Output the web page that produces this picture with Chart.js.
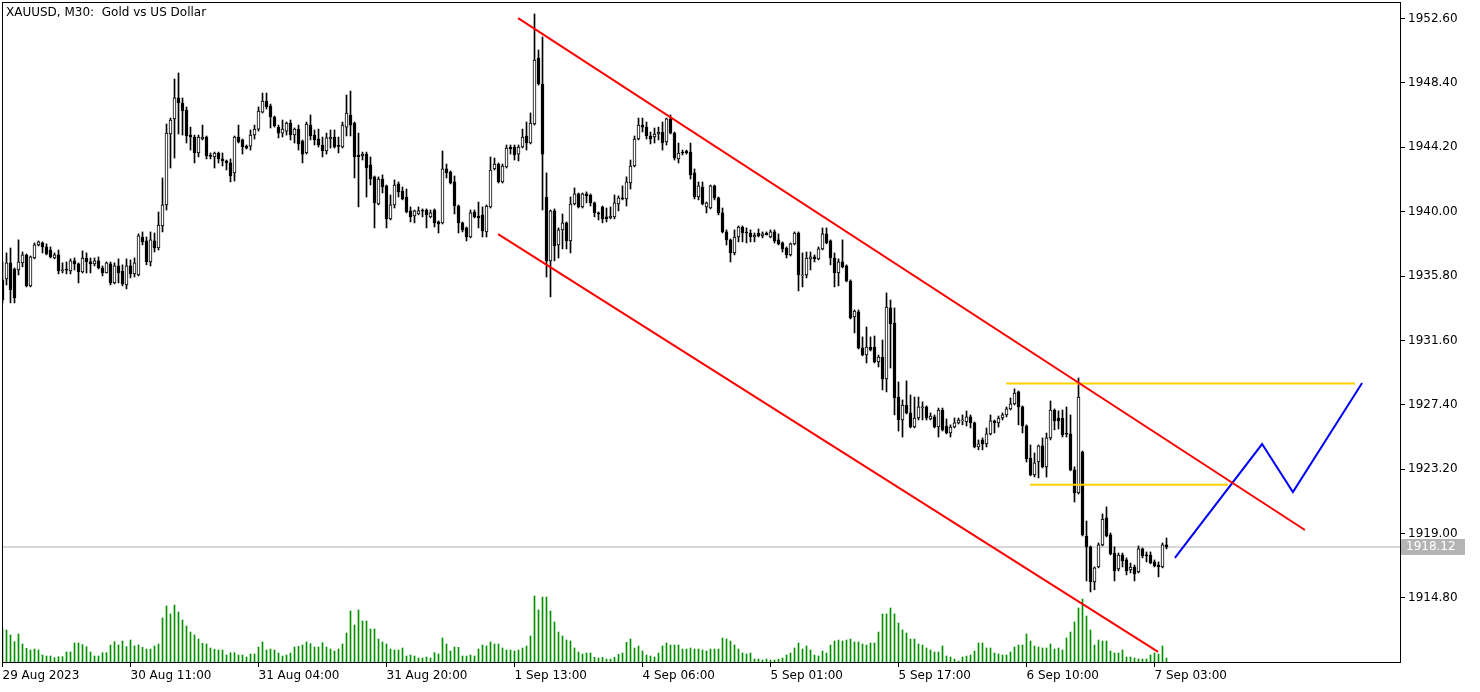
<!DOCTYPE html>
<html><head><meta charset="utf-8">
<script src="https://cdn.jsdelivr.net/npm/chart.js@4.4.0/dist/chart.umd.min.js"></script>
<style>html,body{margin:0;padding:0;background:#fff;overflow:hidden}#wrap{width:1480px;height:692px}</style>
</head><body><div id="wrap"><canvas id="c" width="1480" height="692"></canvas></div>
<script>
const opens=[1935.55,1935.61,1936.66,1936.26,1936.20,1936.66,1937.18,1935.16,1936.98,1937.83,
1937.96,1937.70,1937.50,1936.98,1937.18,1936.13,1936.20,1936.13,1936.79,1936.59,
1936.07,1936.98,1936.72,1936.59,1936.79,1936.33,1936.00,1936.59,1935.35,1936.46,
1936.13,1935.22,1936.46,1935.94,1935.87,1938.35,1938.09,1936.72,1938.09,1937.63,
1939.07,1940.44,1945.07,1946.05,1947.42,1947.09,1946.63,1945.00,1944.87,1943.83,
1944.74,1944.87,1943.63,1943.57,1943.83,1943.44,1943.31,1943.18,1942.53,1944.87,
1944.68,1944.28,1944.28,1945.00,1945.39,1946.50,1947.22,1946.89,1946.18,1945.52,
1945.13,1945.26,1945.78,1945.00,1945.39,1944.61,1943.83,1945.65,1945.00,1944.74,
1944.35,1943.96,1944.74,1944.87,1944.28,1944.22,1945.52,1946.31,1945.78,1943.70,
1943.63,1943.76,1943.05,1942.27,1940.50,1942.13,1941.68,1939.53,1940.44,1941.81,
1941.35,1940.96,1940.05,1939.72,1939.85,1940.05,1940.11,1939.66,1940.11,1939.33,
1939.27,1942.79,1942.59,1941.94,1940.37,1939.27,1938.94,1938.35,1939.98,1939.72,
1939.79,1938.68,1940.31,1942.79,1943.11,1941.94,1942.92,1944.22,1944.22,1943.76,
1944.22,1944.94,1944.48,1945.72,1950.02,1948.33,1940.96,1936.79,1940.05,1937.83,
1938.81,1939.27,1938.09,1940.50,1941.16,1940.31,1941.16,1941.09,1940.57,1939.92,
1940.31,1939.66,1939.59,1939.66,1940.50,1940.90,1940.83,1941.87,1942.98,1944.74,
1945.65,1945.52,1944.94,1944.87,1945.07,1945.20,1944.55,1946.05,1945.13,1943.44,
1943.89,1943.96,1943.89,1942.53,1940.96,1941.61,1940.31,1940.24,1941.68,1940.90,
1939.92,1938.68,1938.16,1937.31,1938.35,1939.00,1938.66,1938.61,1938.35,1938.61,
1938.42,1938.61,1938.35,1938.68,1938.16,1937.96,1937.63,1937.18,1937.90,1938.61,
1935.81,1935.87,1936.92,1937.05,1936.92,1937.57,1938.55,1938.09,1936.98,1936.00,
1936.72,1936.46,1935.48,1933.13,1933.46,1931.11,1930.65,1931.17,1931.17,1930.20,
1930.52,1929.09,1933.72,1932.74,1927.91,1926.41,1927.39,1926.87,1925.95,1926.54,
1927.19,1927.26,1926.48,1926.61,1925.95,1927.06,1926.02,1925.56,1925.95,1926.22,
1926.35,1926.28,1926.61,1926.22,1924.65,1925.11,1924.85,1925.50,1926.35,1926.22,
1926.54,1926.74,1927.13,1927.46,1928.24,1927.26,1926.02,1923.93,1922.82,1923.67,
1924.72,1923.35,1925.24,1927.06,1926.54,1926.54,1925.50,1925.50,1923.15,1921.65,
1924.32,1918.84,1918.13,1915.85,1916.82,1918.26,1920.02,1918.91,1917.73,1916.69,
1917.60,1917.28,1916.63,1916.82,1916.50,1918.00,1917.58,1917.60,1917.15,1916.95,
1916.82,1918.26];
const highs=[1936.72,1937.31,1937.63,1936.33,1938.16,1937.37,1937.24,1937.11,1937.96,1938.09,
1938.03,1937.90,1937.70,1937.31,1937.50,1936.66,1936.72,1936.92,1936.98,1936.66,
1937.44,1937.31,1936.98,1936.98,1937.05,1936.46,1936.72,1936.72,1936.66,1936.92,
1936.53,1936.92,1936.85,1936.98,1938.55,1938.68,1938.35,1938.68,1938.61,1939.98,
1942.20,1945.72,1946.11,1948.66,1949.05,1947.42,1946.83,1945.52,1945.00,1945.00,
1945.65,1944.94,1943.83,1943.89,1943.89,1943.83,1943.37,1943.44,1944.94,1945.65,
1944.74,1944.35,1945.33,1945.65,1946.83,1947.74,1947.74,1947.02,1946.24,1945.65,
1945.98,1945.85,1945.98,1945.46,1945.65,1944.68,1945.85,1946.31,1945.33,1945.39,
1944.87,1945.13,1945.33,1945.33,1944.87,1945.85,1947.61,1947.87,1945.85,1945.13,
1943.89,1943.89,1943.57,1942.33,1942.27,1942.40,1941.74,1941.09,1942.07,1941.94,
1941.61,1941.48,1940.31,1940.11,1940.31,1940.18,1940.18,1940.11,1940.18,1939.40,
1943.96,1943.11,1942.66,1942.33,1940.44,1939.33,1939.00,1940.11,1940.11,1940.63,
1940.31,1940.44,1943.57,1943.50,1943.18,1943.11,1944.35,1944.35,1944.35,1944.35,
1945.39,1945.85,1946.44,1952.90,1950.55,1951.40,1942.53,1940.11,1940.18,1938.94,
1939.85,1939.33,1940.96,1941.55,1941.22,1941.22,1941.29,1941.16,1940.63,1939.98,
1940.37,1940.24,1940.31,1941.09,1941.03,1941.68,1942.27,1943.37,1944.94,1946.11,
1946.11,1945.85,1945.20,1945.46,1945.52,1945.85,1946.11,1946.31,1945.20,1944.48,
1944.02,1944.02,1944.48,1942.79,1941.94,1941.94,1940.63,1941.74,1941.74,1940.96,
1940.24,1938.81,1938.22,1938.81,1939.07,1939.07,1938.94,1938.81,1938.61,1938.87,
1938.68,1938.68,1938.81,1938.81,1938.55,1938.03,1937.70,1937.96,1938.68,1938.68,
1937.31,1937.37,1937.37,1937.18,1937.70,1938.94,1938.94,1938.16,1937.31,1936.92,
1938.16,1936.53,1935.55,1933.59,1933.59,1931.83,1932.48,1931.83,1931.89,1930.65,
1931.63,1934.70,1934.24,1933.72,1928.89,1927.72,1928.96,1928.04,1927.91,1927.91,
1927.59,1927.33,1926.87,1926.74,1927.19,1927.19,1926.48,1926.09,1926.54,1926.54,
1926.74,1927.00,1926.74,1926.28,1925.11,1925.24,1925.89,1926.74,1926.41,1926.67,
1926.87,1927.26,1927.85,1928.44,1928.30,1927.33,1926.09,1924.78,1924.26,1924.78,
1925.24,1925.56,1927.65,1927.13,1927.00,1927.06,1927.26,1926.74,1923.35,1929.15,
1924.39,1919.82,1918.19,1916.82,1918.39,1920.28,1920.74,1919.04,1918.13,1917.73,
1917.73,1917.41,1917.08,1916.95,1918.19,1918.06,1917.80,1917.80,1917.28,1917.15,
1918.39,1918.71];
const lows=[1934.05,1935.22,1934.05,1934.05,1935.87,1936.40,1935.09,1935.09,1936.92,1937.76,
1937.31,1937.18,1936.98,1936.92,1935.94,1936.00,1935.94,1935.94,1936.20,1935.35,
1936.00,1936.00,1936.00,1936.46,1936.26,1935.81,1936.00,1935.22,1935.29,1935.35,
1935.16,1934.96,1935.68,1935.74,1935.81,1937.83,1936.53,1936.46,1937.37,1937.50,
1938.68,1940.11,1942.85,1943.50,1945.07,1945.00,1944.48,1944.02,1943.18,1943.57,
1944.68,1943.44,1943.44,1942.85,1943.18,1942.98,1942.72,1941.94,1942.00,1944.48,
1943.76,1944.09,1944.02,1944.74,1945.26,1946.44,1946.70,1945.46,1945.52,1944.81,
1944.87,1945.00,1944.68,1944.48,1944.02,1943.18,1943.76,1944.68,1944.35,1944.22,
1943.57,1943.76,1944.15,1944.15,1943.83,1944.15,1944.94,1944.94,1942.20,1940.31,
1943.37,1940.96,1941.74,1938.94,1940.44,1941.22,1938.94,1939.46,1940.24,1940.96,
1940.77,1939.92,1939.33,1939.27,1939.79,1939.66,1938.94,1939.59,1939.00,1938.61,
1939.20,1942.20,1941.81,1939.85,1938.61,1938.68,1938.09,1938.29,1939.59,1938.94,
1938.35,1938.35,1940.24,1942.72,1941.87,1941.87,1942.85,1943.76,1943.37,1943.31,
1944.15,1944.02,1944.42,1945.65,1948.26,1940.11,1935.74,1934.44,1936.79,1936.98,
1937.57,1937.57,1937.31,1940.44,1940.24,1940.24,1940.57,1940.37,1939.66,1939.46,
1939.27,1939.33,1939.53,1939.53,1940.05,1940.77,1940.37,1941.48,1942.92,1944.68,
1945.20,1944.74,1944.42,1944.48,1944.68,1944.02,1944.35,1945.07,1943.37,1943.18,
1943.70,1943.76,1942.13,1940.83,1940.77,1940.44,1939.92,1940.18,1940.77,1939.79,
1938.61,1937.83,1936.72,1937.18,1938.03,1938.03,1937.96,1938.03,1938.03,1938.35,
1938.29,1938.48,1938.29,1937.96,1937.83,1937.37,1936.98,1937.11,1937.83,1934.83,
1935.09,1935.68,1936.20,1936.72,1936.85,1937.50,1937.90,1936.53,1935.09,1935.16,
1936.33,1935.42,1933.00,1932.09,1931.04,1930.59,1930.13,1930.91,1930.13,1929.87,
1928.37,1928.24,1929.80,1926.74,1925.69,1925.30,1926.80,1925.89,1925.89,1926.41,
1926.41,1926.41,1926.41,1925.89,1925.30,1925.69,1925.50,1925.30,1925.89,1926.15,
1926.09,1926.02,1925.89,1924.59,1924.46,1924.46,1924.65,1925.43,1925.56,1925.95,
1926.41,1926.61,1927.06,1927.39,1926.09,1925.56,1923.67,1922.76,1922.69,1922.63,
1923.28,1922.69,1925.11,1925.76,1925.82,1925.30,1925.30,1923.09,1921.06,1921.58,
1918.84,1915.91,1915.19,1915.33,1916.76,1918.19,1918.78,1917.60,1915.91,1916.56,
1916.82,1916.30,1916.43,1915.91,1916.43,1917.41,1917.15,1917.02,1916.82,1916.17,
1916.76,1918.00];
const closes=[1934.24,1936.66,1934.89,1934.37,1936.72,1937.18,1935.16,1937.05,1937.83,1938.03,
1937.70,1937.24,1937.05,1937.18,1936.13,1936.20,1936.18,1936.79,1936.59,1936.07,
1936.98,1936.72,1936.59,1936.79,1936.33,1936.00,1936.66,1935.35,1936.46,1936.00,
1935.29,1936.46,1935.94,1936.66,1938.42,1938.03,1936.72,1938.16,1937.63,1939.13,
1940.44,1945.13,1945.98,1947.42,1947.09,1946.57,1944.94,1944.87,1943.83,1944.87,
1944.87,1943.63,1943.61,1943.83,1943.44,1943.31,1943.18,1942.33,1944.87,1944.55,
1944.22,1944.15,1945.00,1945.39,1946.57,1947.22,1946.83,1946.18,1945.59,1945.13,
1945.39,1945.78,1945.00,1945.39,1944.42,1943.76,1945.72,1944.94,1944.68,1944.35,
1943.96,1944.81,1944.87,1944.22,1944.26,1945.65,1946.44,1945.65,1943.57,1943.57,
1943.76,1942.85,1942.13,1940.57,1942.13,1941.61,1939.53,1940.44,1941.74,1941.29,
1940.83,1939.98,1939.66,1940.05,1940.05,1940.03,1939.79,1939.92,1939.27,1939.20,
1942.79,1942.53,1941.87,1940.37,1939.27,1938.81,1938.35,1939.92,1939.66,1939.59,
1938.74,1940.37,1942.72,1943.11,1941.94,1942.98,1944.15,1944.09,1943.70,1944.22,
1944.87,1944.48,1945.78,1949.89,1948.33,1943.76,1936.79,1940.05,1937.76,1938.81,
1939.27,1938.09,1940.50,1941.16,1940.31,1941.16,1941.03,1940.57,1939.92,1939.85,
1939.53,1939.52,1939.72,1940.57,1940.90,1940.83,1941.94,1942.98,1944.74,1945.65,
1945.52,1944.94,1944.74,1945.07,1945.20,1944.48,1946.05,1945.13,1943.50,1943.83,
1943.83,1943.83,1942.40,1940.96,1941.68,1940.50,1940.57,1941.68,1940.90,1939.92,
1938.68,1938.16,1937.31,1938.35,1939.00,1938.61,1938.61,1938.35,1938.48,1938.42,
1938.55,1938.48,1938.68,1938.09,1937.90,1937.57,1937.18,1937.90,1938.61,1935.87,
1935.87,1936.98,1937.05,1936.92,1937.57,1938.55,1937.96,1936.98,1936.00,1936.72,
1936.40,1935.48,1933.07,1933.52,1931.11,1930.65,1931.17,1930.98,1930.20,1930.52,
1929.09,1933.78,1932.68,1927.85,1926.41,1927.39,1926.87,1925.95,1926.54,1927.26,
1927.26,1926.54,1926.67,1925.95,1927.06,1925.76,1925.56,1925.95,1926.22,1926.41,
1926.37,1926.61,1926.22,1924.65,1924.85,1924.85,1925.50,1926.35,1926.22,1926.54,
1926.74,1927.13,1927.46,1928.17,1927.26,1926.02,1923.87,1922.82,1923.61,1924.72,
1923.35,1925.24,1927.06,1926.35,1926.35,1925.43,1925.48,1923.15,1921.65,1927.91,
1918.91,1918.13,1915.85,1916.76,1918.26,1919.95,1918.84,1917.67,1916.56,1917.60,
1917.21,1916.56,1916.82,1916.37,1918.00,1917.54,1917.54,1917.08,1916.89,1916.82,
1918.26,1918.12];
const volumes=[1000,960,810,610,840,540,410,360,390,360,210,180,180,130,160,160,300,300,570,570,
520,460,300,180,180,280,280,510,610,510,630,460,660,480,510,440,390,390,480,540,
1320,1680,1440,1710,1500,1260,1080,900,810,690,560,540,420,380,360,360,210,280,280,210,
210,150,240,240,450,600,360,390,360,270,180,210,270,450,470,510,600,550,450,450,
580,450,390,330,390,540,870,1530,1110,1560,1230,1230,990,990,690,600,540,390,360,360,
420,180,210,180,120,120,150,120,280,240,720,540,330,450,440,180,180,210,180,390,
510,480,600,540,540,420,360,360,330,360,420,480,780,1980,1560,1950,1950,1530,1200,900,
780,660,630,420,300,240,270,270,140,120,140,90,90,140,230,270,590,690,420,480,
330,210,180,150,270,480,570,510,510,510,390,390,420,390,390,360,330,390,390,390,
720,690,630,510,390,270,240,270,90,90,60,90,60,60,80,120,210,270,420,570,
390,480,360,210,180,330,270,510,630,660,630,660,690,600,600,540,510,570,570,900,
1440,1440,1620,1440,1170,960,870,690,690,540,510,420,360,300,300,480,180,150,90,30,
150,180,210,330,570,570,420,420,270,240,210,210,300,450,510,510,840,630,480,450,
420,420,540,390,420,360,720,900,1200,1620,1890,1380,960,510,660,630,630,330,270,270,
360,150,150,120,90,90,90,210,270,240,480,120];
const xTickBars=[0,32,64,96,128,160,192,224,256,288];
const xTickLabels=["29 Aug 2023","30 Aug 11:00","31 Aug 04:00","31 Aug 20:00","1 Sep 13:00","4 Sep 06:00","5 Sep 01:00","5 Sep 17:00","6 Sep 10:00","7 Sep 03:00"];
const priceTicks=[1914.80,1919.00,1923.20,1927.40,1931.60,1935.80,1940.00,1944.20,1948.40,1952.60];
const bidPrice=1918.12;
const channelUpper=[{x:128.9,y:1952.63},{x:325.6,y:1919.23}];
const channelLower=[{x:123.9,y:1938.54},{x:288.9,y:1911.28}];
const levelHigh=[{x:250.9,y:1928.79},{x:338.1,y:1928.79}];
const levelLow=[{x:256.9,y:1922.19},{x:306.4,y:1922.19}];
const projection=[{x:293.1,y:1917.41},{x:314.9,y:1924.84},{x:322.6,y:1921.71},{x:339.9,y:1928.82}];
const titleText="XAUUSD, M30:  Gold vs US Dollar";

const X_MIN=-0.125, X_MAX=349.375;
const idx=closes.map((_,i)=>i);
const bodies=idx.map(i=>({x:i,y:[opens[i],closes[i]]}));
const wicks=idx.map(i=>({x:i,y:[lows[i],highs[i]]}));
const vols=idx.map(i=>({x:i,y:volumes[i]}));
const bodyFill=idx.map(i=>closes[i]>opens[i]?'#ffffff':'#000000');
const FONT='"DejaVu Sans", sans-serif';

const deco={
  id:'deco',
  afterDraw(chart){
    const {ctx,chartArea:a,scales}=chart;
    ctx.save();
    ctx.strokeStyle='#000';ctx.lineWidth=1;
    ctx.strokeRect(a.left+0.5,a.top+0.5,a.right-a.left,a.bottom-a.top);
    ctx.fillStyle='#000';ctx.font='12px '+FONT;ctx.textBaseline='middle';ctx.textAlign='left';
    ctx.fillText(titleText,a.left+4,a.top+11);
    const y=scales.y.getPixelForValue(bidPrice);
    ctx.fillStyle='#b4b4b4';
    ctx.fillRect(a.right+1,Math.round(y)-8,64,16);
    ctx.fillStyle='#ffffff';
    ctx.fillText(bidPrice.toFixed(2),a.right+6,Math.round(y));
    ctx.restore();
  }
};
function noPad(s){s.paddingTop=0;s.paddingBottom=0;s.paddingLeft=0;s.paddingRight=0;}

new Chart(document.getElementById('c'),{
  type:'bar',
  data:{datasets:[
    {type:'line',label:'channelUpper',data:channelUpper,borderColor:'#ff0000',borderWidth:2,pointRadius:0,order:0,yAxisID:'y'},
    {type:'line',label:'channelLower',data:channelLower,borderColor:'#ff0000',borderWidth:2,pointRadius:0,order:0,yAxisID:'y'},
    {type:'line',label:'levelHigh',data:levelHigh,borderColor:'#ffd000',borderWidth:2,pointRadius:0,order:0,yAxisID:'y'},
    {type:'line',label:'levelLow',data:levelLow,borderColor:'#ffd000',borderWidth:2,pointRadius:0,order:0,yAxisID:'y'},
    {type:'line',label:'projection',data:projection,borderColor:'#0000ff',borderWidth:2,pointRadius:0,order:0,yAxisID:'y'},
    {type:'bar',label:'body',data:bodies,backgroundColor:bodyFill,borderColor:'#000',borderWidth:1,borderSkipped:false,barThickness:3,minBarLength:1,grouped:false,order:1,yAxisID:'y'},
    {type:'bar',label:'wick',data:wicks,backgroundColor:'#000',borderWidth:0,barThickness:1,minBarLength:1,grouped:false,order:2,yAxisID:'y'},
    {type:'bar',label:'volume',data:vols,backgroundColor:'#009000',borderWidth:0,barThickness:1,grouped:false,order:3,yAxisID:'yv'},
    {type:'line',label:'bid',data:[{x:X_MIN,y:bidPrice},{x:X_MAX,y:bidPrice}],borderColor:'#b0b0b0',borderWidth:1,pointRadius:0,order:4,yAxisID:'y'}
  ]},
  options:{
    responsive:false,devicePixelRatio:1,animation:false,
    layout:{padding:{left:2,top:2,right:0,bottom:0}},
    plugins:{legend:{display:false},tooltip:{enabled:false}},
    scales:{
      x:{type:'linear',min:X_MIN,max:X_MAX,offset:false,position:'bottom',
        grid:{display:true,drawOnChartArea:false,drawTicks:true,tickLength:5,color:'#000',offset:false},
        border:{display:false},
        ticks:{autoSkip:false,maxRotation:0,align:'start',color:'#000',font:{family:FONT,size:12},padding:2,
          callback:(v)=>{const k=xTickBars.indexOf(v);return k>=0?xTickLabels[k]:'';}},
        afterBuildTicks:(s)=>{s.ticks=xTickBars.map(v=>({value:v}));},
        afterFit:(s)=>{s.height=30;noPad(s);}},
      y:{type:'linear',position:'right',min:1910.62,max:1953.68,
        grid:{display:true,drawOnChartArea:false,drawTicks:true,tickLength:5,color:'#000'},
        border:{display:false},
        ticks:{color:'#000',font:{family:FONT,size:12},padding:3,callback:(v)=>Number(v).toFixed(2)},
        afterBuildTicks:(s)=>{s.ticks=priceTicks.map(v=>({value:v}));},
        afterFit:(s)=>{s.width=80;noPad(s);}},
      yv:{type:'linear',display:false,min:0,max:19800}
    }
  },
  plugins:[deco]
});
</script></body></html>
